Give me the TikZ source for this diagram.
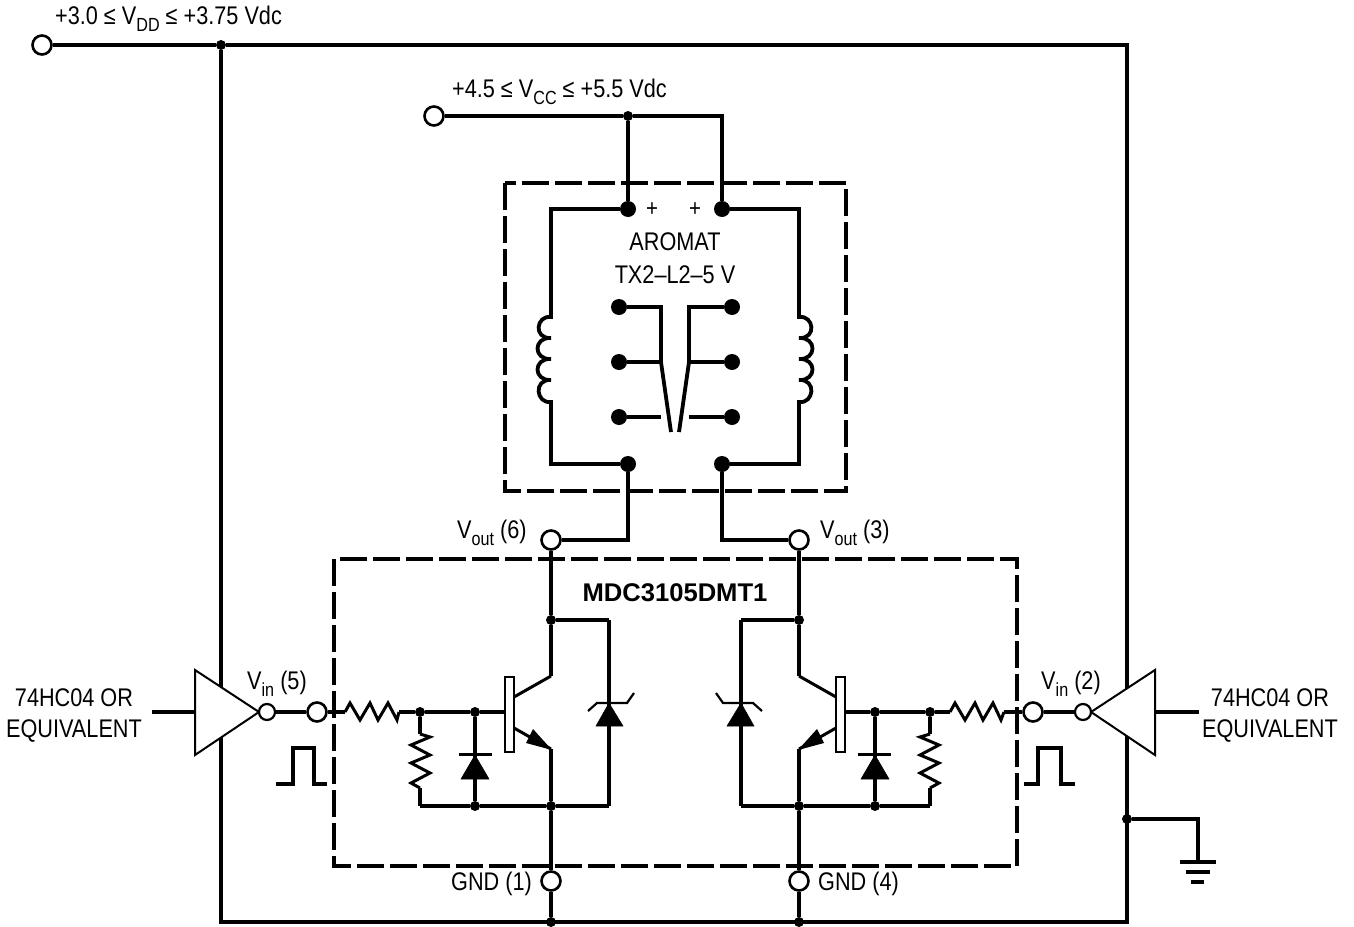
\documentclass[tikz,border=0pt]{standalone}
\usepackage{fontspec}
\setmainfont[FakeStretch=0.85]{Liberation Sans}
\newfontfamily\boldlab{Liberation Sans Bold}
\newcommand{\lab}{\fontsize{25.5}{32}\selectfont}
\newcommand{\sbs}[1]{\raisebox{-0.28em}{\fontsize{19}{19}\selectfont #1}}
\tikzset{
  wire/.style={line width=3.8pt,line cap=butt,line join=miter},
  heavy/.style={line width=4.6pt,line cap=butt,line join=miter},
  thinw/.style={line width=2.2pt,line join=miter},
  frame/.style={line width=4.2pt,line join=miter},
  dashbox/.style={line width=3.6pt,dash pattern=on 27pt off 6pt,line join=miter},
  dot/.style={circle,fill=black,inner sep=0pt,minimum size=10pt},
  bigdot/.style={circle,fill=black,inner sep=0pt,minimum size=16pt},
  pin/.style={circle,draw=black,fill=white,line width=2.6pt,inner sep=0pt,minimum size=19pt},
  smallpin/.style={circle,draw=black,fill=white,line width=2.2pt,inner sep=0pt,minimum size=16pt},
  txt/.style={inner sep=0pt,font=\lab,text=black},
  solid tri/.style={fill=black,draw=black,line width=0.5pt,line join=miter},
  buf/.style={draw=black,fill=white,line width=2pt,line join=miter},
}
\newcommand{\halfcircuit}[1]{%
  \node[dot] (#1coll) at (551,620) {};
  \node[dot] (#1emit) at (551,806) {};
  \node[dot] (#1rb)   at (420,712) {};
  \node[dot] (#1db)   at (475,712) {};
  \node[dot] (#1re)   at (475,806) {};
  \coordinate (#1zt)  at (609,620);
  \coordinate (#1zb)  at (609,806);
  \coordinate (#1rc)  at (420,806);
  \coordinate (#1barb) at (505,712);
  \coordinate (#1c1)  at (514,697);
  \coordinate (#1c2)  at (551,676);
  \coordinate (#1e1)  at (514,728);
  \coordinate (#1e2)  at (551,749);
  \draw[wire] (#1coll) -- (#1zt);
  \draw[heavy] (#1zt) -- (#1zb);
  \draw[wire] (#1zb) -- (#1emit) -- (#1re) -- (#1rc);
  \draw[wire] (#1rc) -- (420,788);
  \draw[line width=3pt,line join=miter] (420,788) -- (411,783) -- (430,773) -- (411,763) -- (430,755) -- (411,745) -- (430,737) -- (420,734);
  \draw[wire] (420,734) -- (#1rb);
  \draw[wire] (#1rb) -- (#1db) -- (#1barb);
  \draw[wire] (#1db) -- (#1re);
  \draw[wire] (#1coll) -- (#1c2);
  \draw[line width=3pt] (#1c2) -- (#1c1);
  \draw[line width=3pt] (#1e1) -- (#1e2);
  \draw[wire] (#1e2) -- (#1emit);
  \draw[draw=black,fill=white,line width=2.2pt] (505,677) rectangle (514,752);
  \fill[black] (552,750) -- (533,729) -- (526,743) -- cycle;
  \draw[solid tri] (475,755) -- (461,779) -- (489,779) -- cycle;
  \draw[line width=2.8pt] (459,754.5) -- (492,754.5);
  \draw[solid tri] (609,703) -- (596,726) -- (623,726) -- cycle;
  \draw[thinw] (588,711) -- (597,703) -- (627,703) -- (634,693);
}
\begin{document}
\begin{tikzpicture}[x=1pt,y=-1pt]
\useasboundingbox (0,0) rectangle (1354,926);
\fill[white] (0,0) rectangle (1354,926);

\node[pin] (vdd) at (42,45) {};
\node[dot] (vddj) at (221,45) {};
\coordinate (tr) at (1127,45);
\coordinate (br) at (1127,922);
\coordinate (bl) at (221,922);
\draw[frame] (vdd) -- (vddj) -- (tr) -- (br) -- (bl) -- (vddj);

\node[pin] (vcc) at (434,116) {};
\node[dot] (vccj) at (628,116) {};
\coordinate (vccr) at (722,116);
\node[bigdot] (c1) at (628,209) {};
\node[bigdot] (c2) at (722,209) {};
\node[bigdot] (c3) at (628,464) {};
\node[bigdot] (c4) at (722,464) {};
\draw[wire] (vcc) -- (vccj) -- (vccr) -- (c2);
\draw[wire] (vccj) -- (c1);

\draw[dashbox] (505,183) rectangle (846,491);
\draw[dashbox] (334,559) rectangle (1017,866);

\coordinate (lt) at (551,209); \coordinate (lb) at (551,464);
\coordinate (rt) at (799,209); \coordinate (rb) at (799,464);
\draw[wire] (c1) -- (lt) -- (551,317)
  .. controls (536,315) and (533,339) .. (551,338)
  .. controls (533,337) and (533,360) .. (551,359)
  .. controls (533,358) and (533,381) .. (551,380)
  .. controls (533,379) and (536,404) .. (551,402)
  -- (lb) -- (c3);
\draw[wire] (c2) -- (rt) -- (799,317)
  .. controls (814,315) and (817,339) .. (799,338)
  .. controls (817,337) and (817,360) .. (799,359)
  .. controls (817,358) and (817,381) .. (799,380)
  .. controls (817,379) and (814,404) .. (799,402)
  -- (rb) -- (c4);

\node[bigdot] (a1) at (619,307) {};
\node[bigdot] (a2) at (619,362) {};
\node[bigdot] (a3) at (619,417) {};
\node[bigdot] (b1) at (732,307) {};
\node[bigdot] (b2) at (732,362) {};
\node[bigdot] (b3) at (732,417) {};
\coordinate (a1c) at (661,307); \coordinate (a2c) at (661,362);
\coordinate (a3c) at (661,417); \coordinate (am) at (671,432);
\coordinate (b1c) at (689,307); \coordinate (b2c) at (689,362);
\coordinate (b3c) at (689,417); \coordinate (bm) at (679,432);
\draw[heavy] (a1) -- (a1c) -- (a2c) -- (a2);
\draw[wire] (a2c) -- (am);
\draw[heavy] (a3) -- (a3c);
\draw[heavy] (b1) -- (b1c) -- (b2c) -- (b2);
\draw[wire] (b2c) -- (bm);
\draw[heavy] (b3) -- (b3c);

\node[pin] (v6) at (551,540) {};
\node[pin] (v3) at (799,540) {};
\coordinate (o6) at (628,540);
\coordinate (o3) at (722,540);
\draw[wire] (c3) -- (o6) -- (v6);
\draw[wire] (c4) -- (o3) -- (v3);

\halfcircuit{L}
\begin{scope}[shift={(1350,0)},xscale=-1]
\halfcircuit{R}
\end{scope}

\node[pin] (g1) at (551,881) {};
\node[pin] (g4) at (799,881) {};
\node[dot] (g1b) at (551,922) {};
\node[dot] (g4b) at (799,922) {};
\draw[wire] (v6) -- (Lcoll);
\draw[wire] (v3) -- (Rcoll);
\draw[wire] (Lemit) -- (g1);
\draw[wire] (Remit) -- (g4);
\draw[wire] (g1) -- (g1b);
\draw[wire] (g4) -- (g4b);

\node[inner sep=0pt] (bufl) at (195,712) {};
\node[inner sep=0pt] (bufr) at (1155,712) {};
\coordinate (inl) at (152,712);
\coordinate (inr) at (1199,712);
\draw[buf] (bufl.center) -- (195,670) -- (259,712) -- (195,755) -- cycle;
\draw[buf] (bufr.center) -- (1155,670) -- (1091,712) -- (1155,755) -- cycle;
\draw[wire] (inl) -- (bufl);
\draw[wire] (inr) -- (bufr);
\node[smallpin] (ol) at (267,712) {};
\node[smallpin] (or) at (1083,712) {};
\node[pin] (pl) at (317,712) {};
\node[pin] (pr) at (1033,712) {};
\draw[wire] (ol) -- (pl);
\draw[wire] (or) -- (pr);

\draw[wire] (pl) -- (345,712);
\draw[line width=3pt,line join=miter] (345,712) -- (350,703) -- (360,720) -- (370,703) -- (378,720) -- (388,703) -- (397,720) -- (399,712);
\draw[wire] (399,712) -- (Lrb);
\draw[wire] (Rrb) -- (950,712);
\draw[line width=3pt,line join=miter] (950,712) -- (955,703) -- (965,720) -- (975,703) -- (983,720) -- (993,703) -- (1001,720) -- (1004,712);
\draw[wire] (1004,712) -- (pr);

\draw[wire] (276,784) -- (293,784) -- (293,748) -- (314,748) -- (314,784) -- (327,784);
\draw[wire] (1024,784) -- (1038,784) -- (1038,748) -- (1061,748) -- (1061,784) -- (1075,784);

\node[dot] (gj) at (1127,819) {};
\coordinate (gc) at (1198,819);
\coordinate (gt) at (1198,862);
\draw[wire] (gj) -- (gc) -- (gt);
\draw[wire] (1180,862) -- (1216,862);
\draw[wire] (1186,872) -- (1210,872);
\draw[line width=4.5pt] (1191,882) -- (1204,882);

\node[txt,anchor=west] (t1) at (55,19) {+3.0 ≤ V\sbs{DD} ≤ +3.75 Vdc};
\node[txt,anchor=west] (t2) at (452,92) {+4.5 ≤ V\sbs{CC} ≤ +5.5 Vdc};
\node[txt,font=\fontsize{24}{24}\selectfont] (p1) at (652,210) {+};
\node[txt,font=\fontsize{24}{24}\selectfont] (p2) at (695,210) {+};
\node[txt] (t3) at (675,242) {AROMAT};
\node[txt] (t4) at (675,275) {TX2–L2–5 V};
\node[txt,anchor=west] (t5) at (457,533) {V\sbs{out} (6)};
\node[txt,anchor=west] (t6) at (820,533) {V\sbs{out} (3)};
\node[txt,font=\boldlab\fontsize{25.6}{26}\selectfont] (t7) at (675,593) {MDC3105DMT1};
\node[txt,anchor=west] (t8) at (247,684) {V\sbs{in} (5)};
\node[txt,anchor=west] (t9) at (1041,684) {V\sbs{in} (2)};
\node[txt,anchor=west] (t10) at (451,884) {GND (1)};
\node[txt,anchor=west] (t11) at (818,884) {GND (4)};
\node[txt] (t12) at (74,698) {74HC04 OR};
\node[txt] (t13) at (74,731) {EQUIVALENT};
\node[txt] (t14) at (1270,698) {74HC04 OR};
\node[txt] (t15) at (1270,731) {EQUIVALENT};
\end{tikzpicture}
\end{document}
